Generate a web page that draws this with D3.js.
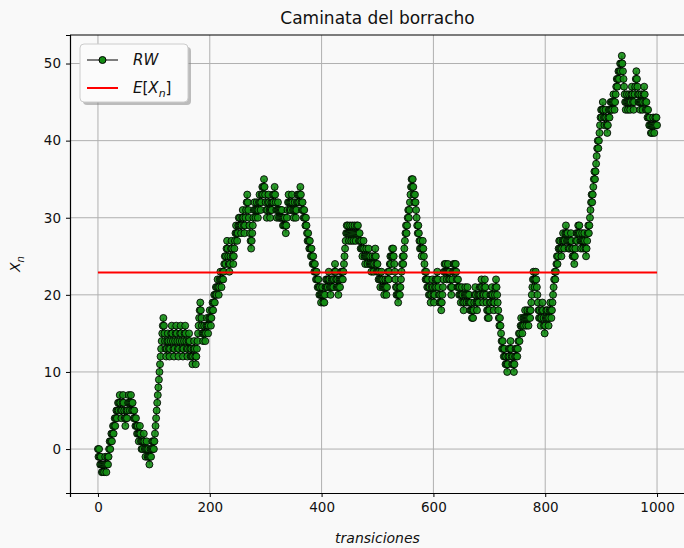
<!DOCTYPE html>
<meta charset="utf-8">
<script src="https://d3js.org/d3.v7.min.js"></script>
<style>
  body { margin: 0; background: #f9f9f9; }
  text { font-family: "DejaVu Sans", sans-serif; fill: #111; }
</style>
<div id="chart"></div>
<script>

  // walk, one value per transition (rows of 10)
  var walk = [
    0,-1,0,-1,-2,-1,-2,-3,-2,-3,
    -2,-3,-2,-1,-2,-3,-2,-1,-2,-1,
    0,1,0,1,2,1,2,3,2,3,
    4,3,4,5,4,5,6,5,6,7,
    6,5,4,5,6,7,6,5,4,3,
    4,5,4,5,6,7,6,5,6,7,
    6,5,6,5,4,5,4,3,4,3,
    2,3,2,1,2,3,2,1,0,1,
    0,1,2,1,0,-1,0,1,0,-1,
    0,-1,-2,-1,0,-1,0,1,0,1,
    0,1,2,3,4,5,6,7,8,9,
    10,11,12,13,14,15,16,17,16,15,
    14,13,12,13,14,15,14,13,12,13,
    14,15,16,15,14,13,12,13,14,15,
    16,15,14,13,12,13,14,15,16,15,
    14,13,12,13,14,15,16,15,14,13,
    12,13,14,15,14,13,12,13,12,11,
    12,13,14,13,12,11,12,13,14,15,
    16,17,18,19,18,17,16,15,14,15,
    16,15,14,15,16,17,16,15,16,17,
    18,17,16,17,18,19,18,19,20,19,
    20,21,20,21,22,21,20,21,22,23,
    22,21,22,23,22,23,24,25,24,25,
    26,27,26,25,24,23,24,25,26,27,
    26,25,24,25,26,27,28,29,28,27,
    28,29,30,29,30,29,28,29,30,31,
    30,29,28,29,30,31,32,33,32,31,
    30,29,28,27,26,27,28,29,30,31,
    32,31,30,31,32,31,30,31,32,33,
    32,31,32,33,34,33,34,35,34,33,
    32,31,30,31,32,33,32,31,30,31,
    32,31,32,33,32,33,34,33,32,31,
    30,31,32,31,30,31,30,31,30,31,
    30,29,30,29,30,29,28,29,30,31,
    32,33,32,31,32,31,32,33,32,31,
    30,31,32,31,30,31,32,33,32,33,
    32,33,34,33,32,31,32,31,30,31,
    30,29,30,29,28,27,28,27,26,27,
    26,25,26,25,24,25,24,23,24,23,
    22,23,22,21,22,21,20,21,20,19,
    20,21,20,19,20,19,20,21,22,21,
    22,21,22,23,22,21,20,21,22,21,
    22,21,22,23,24,23,22,21,22,21,
    20,21,22,21,22,23,22,23,22,23,
    24,25,26,27,28,29,28,29,28,27,
    28,29,28,27,28,29,28,27,28,29,
    28,27,28,29,28,29,28,27,28,27,
    26,27,26,25,26,27,26,25,24,25,
    26,25,24,25,26,25,24,25,24,23,
    24,25,24,23,24,25,26,25,24,23,
    24,23,22,23,22,21,22,23,22,21,
    22,21,20,21,22,21,20,21,22,23,
    22,23,24,25,24,25,26,25,26,25,
    24,23,22,21,20,21,20,19,20,21,
    20,21,22,23,24,25,24,25,26,27,
    28,29,28,29,30,31,30,31,32,33,
    34,35,34,35,34,33,32,33,32,31,
    30,29,28,29,28,27,26,27,26,25,
    26,27,26,25,24,23,22,23,22,21,
    22,21,20,21,20,19,20,21,22,21,
    20,19,20,21,22,21,22,23,22,21,
    20,19,20,19,18,19,20,21,22,23,
    24,23,24,23,22,23,24,23,22,23,
    22,21,20,21,22,23,24,23,24,23,
    24,23,22,21,22,21,20,21,20,19,
    20,21,20,19,18,19,20,21,20,19,
    20,21,20,19,20,19,18,19,18,17,
    18,17,18,19,20,21,20,19,18,19,
    20,19,20,21,20,21,22,21,20,19,
    20,21,22,21,20,19,18,17,18,17,
    18,19,20,19,20,21,20,19,18,19,
    20,21,22,21,20,19,18,17,16,17,
    16,15,14,13,14,13,12,13,12,11,
    12,11,10,11,12,13,12,13,14,13,
    12,11,12,11,10,11,12,13,12,13,
    12,13,14,15,14,15,16,17,16,15,
    16,17,16,17,18,17,16,17,18,17,
    16,17,18,17,18,19,20,21,22,23,
    22,21,22,23,22,21,20,19,18,17,
    18,17,16,17,18,19,18,17,16,15,
    16,17,18,17,18,17,16,17,18,19,
    18,17,18,19,20,21,22,23,22,23,
    24,25,24,25,26,27,26,27,26,25,
    26,27,28,27,26,27,28,29,28,27,
    28,27,26,27,26,27,28,27,26,25,
    26,25,24,25,26,27,28,27,28,29,
    28,29,28,27,26,27,28,27,26,27,
    28,27,26,25,26,27,28,29,28,29,
    30,31,32,33,32,33,34,35,36,35,
    36,37,38,39,40,39,40,41,42,43,
    44,43,44,45,44,43,42,43,44,43,
    42,41,42,43,44,43,44,45,44,45,
    44,45,46,45,44,45,46,47,48,47,
    48,49,48,49,50,49,50,51,50,49,
    48,47,46,45,44,45,46,45,44,45,
    46,45,44,45,46,47,46,45,44,45,
    46,47,48,49,48,47,46,45,46,45,
    44,45,46,45,44,45,46,47,46,45,
    44,45,44,43,44,43,42,43,42,41,
    42,41,42,43,42,41,42,43,42,43,
    42
  ];
  var meanValue = 22.9;
  var xTicks = [0, 200, 400, 600, 800, 1000];
  var yTicks = [0, 10, 20, 30, 40, 50];

  var points = walk.map(function(v, i) { return {n: i, v: v}; });

  var W = 684, H = 548;
  var margin = {top: 35, right: -1, bottom: 55, left: 70};
  var width = W - margin.left - margin.right;
  var height = H - margin.top - margin.bottom;

  var svg = d3.select("#chart")
    .append("svg")
      .attr("width", W)
      .attr("height", H)
      .style("background", "#f9f9f9");

  var g = svg.append("g")
    .attr("transform", "translate(" + margin.left + "," + margin.top + ")");

  var x = d3.scaleLinear().domain([-50, 1050]).range([0, width]);
  var y = d3.scaleLinear().domain([-5.7, 53.7]).range([height, 0]);

  // grid
  g.append("g")
    .selectAll("line.gx")
    .data(xTicks)
    .enter().append("line")
      .attr("x1", function(d) { return x(d); })
      .attr("x2", function(d) { return x(d); })
      .attr("y1", 0).attr("y2", height)
      .attr("stroke", "#b0b0b0").attr("stroke-width", 1);
  g.append("g")
    .selectAll("line.gy")
    .data(yTicks)
    .enter().append("line")
      .attr("x1", 0).attr("x2", width)
      .attr("y1", function(d) { return y(d); })
      .attr("y2", function(d) { return y(d); })
      .attr("stroke", "#b0b0b0").attr("stroke-width", 1);

  // axes
  var xAxis = g.append("g")
    .attr("transform", "translate(0," + height + ")")
    .call(d3.axisBottom(x).tickValues(xTicks).tickSize(4).tickPadding(5).tickFormat(d3.format("d")));
  var yAxis = g.append("g")
    .call(d3.axisLeft(y).tickValues(yTicks).tickSize(4).tickPadding(5));
  [xAxis, yAxis].forEach(function(a) {
    a.select(".domain").attr("stroke", "#000").attr("stroke-width", 1.2);
    a.selectAll(".tick line").attr("stroke", "#000");
    a.selectAll(".tick text")
      .style("font-family", "DejaVu Sans")
      .style("font-size", "13.5px")
      .attr("fill", "#111");
  });
  g.append("line")
    .attr("x1", 0).attr("x2", width).attr("y1", 0).attr("y2", 0)
    .attr("stroke", "#000").attr("stroke-width", 1.2);

  // the walk
  var line = d3.line()
    .x(function(d) { return x(d.n); })
    .y(function(d) { return y(d.v); });

  g.append("path")
    .datum(points)
    .attr("d", line)
    .attr("fill", "none")
    .attr("stroke", "#000")
    .attr("stroke-width", 1);

  g.selectAll("circle.pt")
    .data(points)
    .enter().append("circle")
      .attr("class", "pt")
      .attr("cx", function(d) { return x(d.n); })
      .attr("cy", function(d) { return y(d.v); })
      .attr("r", 3.5)
      .attr("fill", "#138c13")
      .attr("fill-opacity", 0.9)
      .attr("stroke", "#000")
      .attr("stroke-opacity", 0.85)
      .attr("stroke-width", 1);

  // mean
  g.append("line")
    .attr("x1", x(0)).attr("x2", x(1000))
    .attr("y1", y(meanValue)).attr("y2", y(meanValue))
    .attr("stroke", "red").attr("stroke-width", 2);

  // title and labels
  svg.append("text")
    .attr("x", margin.left + width / 2).attr("y", 24)
    .attr("text-anchor", "middle")
    .style("font-size", "17px")
    .text("Caminata del borracho");

  svg.append("text")
    .attr("x", margin.left + width / 2).attr("y", 543)
    .attr("text-anchor", "middle")
    .style("font-size", "14px").style("font-style", "italic")
    .text("transiciones");

  var yl = svg.append("text")
    .attr("transform", "translate(20," + (margin.top + height / 2) + ") rotate(-90)")
    .attr("text-anchor", "middle")
    .style("font-size", "14px").style("font-style", "italic");
  yl.append("tspan").text("X");
  yl.append("tspan").attr("dy", 4).style("font-size", "10px").text("n");

  // legend
  var lg = svg.append("g").attr("transform", "translate(80,44)");
  lg.append("rect")
    .attr("x", 3).attr("y", 3).attr("width", 108).attr("height", 58).attr("rx", 4)
    .attr("fill", "#7f7f7f").attr("opacity", 0.5);
  lg.append("rect")
    .attr("width", 108).attr("height", 58).attr("rx", 4)
    .attr("fill", "#fbfbfb").attr("stroke", "#cccccc").attr("stroke-width", 1);
  lg.append("line")
    .attr("x1", 7).attr("x2", 38).attr("y1", 16).attr("y2", 16)
    .attr("stroke", "#000").attr("stroke-width", 1);
  lg.append("circle")
    .attr("cx", 22.5).attr("cy", 16).attr("r", 3.5)
    .attr("fill", "#138c13").attr("stroke", "#000");
  lg.append("line")
    .attr("x1", 7).attr("x2", 38).attr("y1", 44).attr("y2", 44)
    .attr("stroke", "red").attr("stroke-width", 2);
  lg.append("text")
    .attr("x", 53).attr("y", 21)
    .style("font-size", "15px").style("font-style", "italic")
    .text("RW");
  var et = lg.append("text")
    .attr("x", 53).attr("y", 49)
    .style("font-size", "15px");
  et.append("tspan").style("font-style", "italic").text("E");
  et.append("tspan").text("[");
  et.append("tspan").style("font-style", "italic").text("X");
  et.append("tspan").attr("dy", 4).style("font-size", "11px").style("font-style", "italic").text("n");
  et.append("tspan").attr("dy", -4).text("]");

</script>
